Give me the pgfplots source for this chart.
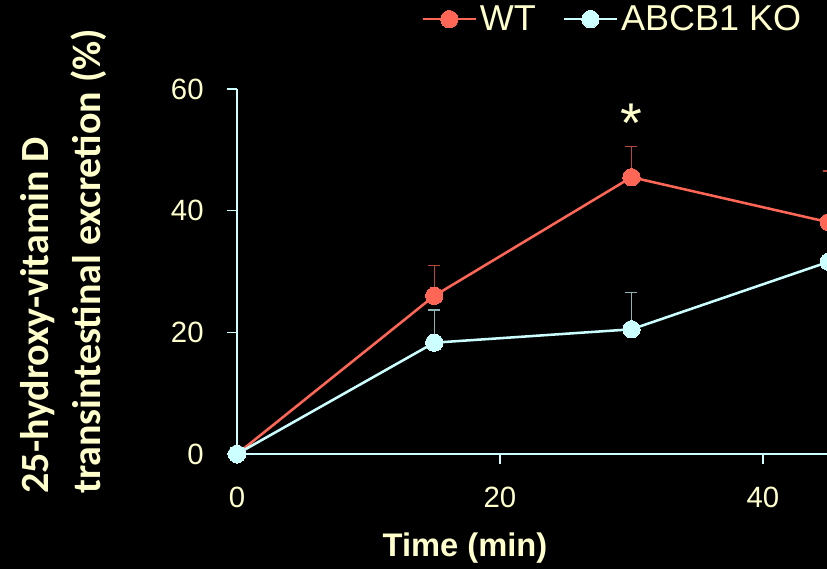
\documentclass[border=0pt]{standalone}
\usepackage{fontspec}
\setmainfont{Liberation Sans}
\newfontfamily\carlito{Carlito}
\usepackage{pgfplots}
\pgfplotsset{compat=1.18}
\definecolor{wtred}{HTML}{FF6655}
\definecolor{wterr}{HTML}{B8483C}
\definecolor{kocyan}{HTML}{CCFFFF}
\definecolor{koerr}{HTML}{8FB3B3}
\definecolor{txt}{HTML}{FFFFCC}
\begin{document}
\begin{tikzpicture}[x=0.75pt,y=0.75pt]
\fill[black] (-237,-115) rectangle (590,454);
\useasboundingbox (-237,-115) rectangle (590,454);
\clip (-237,-115) rectangle (590,454);
\begin{axis}[
  at={(0,0)}, anchor=south west,
  scale only axis, width=493.1pt, height=273.75pt,
  xmin=0, xmax=50, ymin=0, ymax=60,
  axis x line=bottom, axis y line=left,
  axis line style={kocyan, line width=1.1pt, -},
  xtick={0,20,40}, ytick={0,20,40,60},
  tick align=outside, major tick length=7.5pt,
  tick style={kocyan, line width=1.1pt},
  /pgf/number format/assume math mode=true,
  ticklabel style={font=\fontsize{22}{26}\selectfont, text=txt},
  yticklabel style={xshift=-14pt},
  xticklabel style={yshift=-14pt},
  clip=false,
  legend columns=2,
  legend style={at={(axis cs:14.0,74.2)}, anchor=north west, draw=none, fill=none,
    inner sep=0pt, font=\fontsize{27}{30}\selectfont, text=txt,
    /tikz/every even column/.append style={column sep=18pt}},
  legend image code/.code={\draw[#1, mark repeat=2, mark phase=2] plot coordinates {(0pt,0pt) (20pt,0pt) (40pt,0pt)};},
]
\addplot+[wtred, line width=1.9pt, mark=*, mark size=6.5pt, mark options={fill=wtred, draw=wtred, line width=0pt},
  error bars/.cd, y dir=plus, y explicit,
  error bar style={wterr, line width=1pt},
  error mark options={rotate=90, mark size=4.5pt, wterr, line width=1pt}]
  coordinates {(0,0) +- (0,0) (15,26) +- (0,5) (30,45.5) +- (0,5) (45,38.1) +- (0,8.4)};
\addlegendentry{WT}
\addplot+[kocyan, line width=1.9pt, mark=*, mark size=6.5pt, mark options={fill=kocyan, draw=kocyan, line width=0pt},
  error bars/.cd, y dir=plus, y explicit,
  error bar style={koerr, line width=1pt},
  error mark options={rotate=90, mark size=4.5pt, koerr, line width=1pt}]
  coordinates {(0,0) +- (0,0) (15,18.3) +- (0,5.4) (30,20.5) +- (0,6) (45,31.6) +- (0,0)};
\addlegendentry{ABCB1 KO}
\node[text=txt, font=\fontsize{42}{42}\selectfont] at (axis cs:30,54.3) {*};
\node[text=txt, font=\bfseries\fontsize{24.5}{28}\selectfont] at (axis cs:17.34,-15.45) {Time (min)};
\node[text=txt, rotate=90, align=left, font=\carlito\bfseries\fontsize{30}{39}\selectfont] at (axis cs:-13.2,31.7) {25-hydroxy-vitamin D\\transintestinal excretion (\%)};
\end{axis}
\end{tikzpicture}
\end{document}
